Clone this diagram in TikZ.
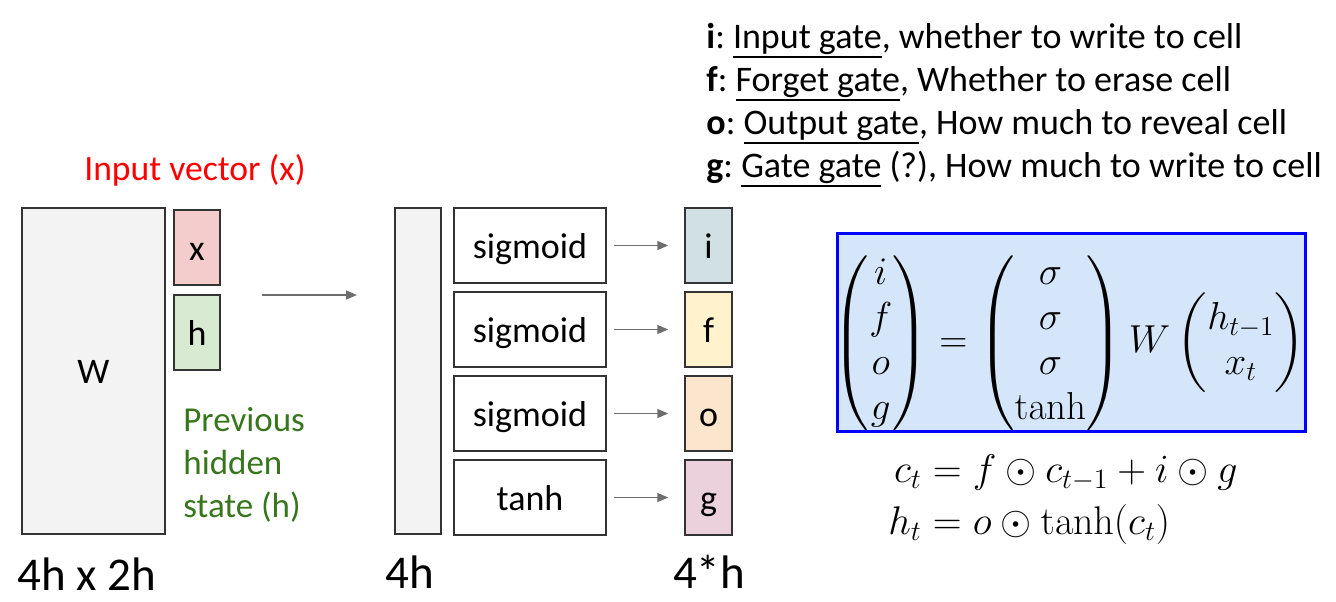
\RequirePackage{fix-cm}
\documentclass[tikz,border=0pt]{standalone}
\usepackage{amsmath}
\usepackage[no-math]{fontspec}
\setmainfont{Carlito}
\usetikzlibrary{arrows.meta}
\newcommand\gateul[1]{\leavevmode\setbox0=\hbox{#1}\rlap{\rule[-5pt]{\wd0}{0.9pt}}\box0\relax}
\frenchspacing
\definecolor{wgray}{RGB}{243,243,243}
\definecolor{xpink}{RGB}{244,204,204}
\definecolor{hgreen}{RGB}{217,234,211}
\definecolor{igate}{RGB}{208,224,227}
\definecolor{fgate}{RGB}{255,242,204}
\definecolor{ogate}{RGB}{252,229,205}
\definecolor{ggate}{RGB}{234,209,220}
\definecolor{boxblue}{RGB}{213,229,250}
\definecolor{darkgreen}{RGB}{56,118,29}
\definecolor{arrowgray}{RGB}{110,110,110}

\begin{document}
\begin{tikzpicture}[x=0.5pt, y=-0.5pt,
  cell/.style={draw=black!80, line width=0.75pt, inner sep=0pt, text height=15pt, text depth=2.5pt, font=\fontsize{18}{21.6}\selectfont},
  flow/.style={draw=arrowgray, fill=arrowgray, line width=0.75pt, -{Triangle[length=5.5pt,width=4.5pt]}}]
  \useasboundingbox (0,0) rectangle (1336,601);
  % weight matrix and its inputs
  \node[cell, fill=wgray, minimum width=71.5pt, minimum height=163pt] (wmat) at (93.5,371) {W};
  \node[cell, fill=xpink, minimum width=23pt, minimum height=37.5pt] (xvec) at (197,247.5) {x};
  \node[cell, fill=hgreen, minimum width=23pt, minimum height=37.5pt] (hvec) at (197,332.5) {h};
  \node[text=red, font=\fontsize{17.8}{21}\selectfont] (xlabel) at (195,170) {Input vector (x)};
  \node[anchor=west, align=left, inner sep=0pt, text=darkgreen, font=\fontsize{17.5}{21.5}\selectfont] (hlabel) at (183,465) {Previous\\hidden\\state (h)};
  \node[anchor=west, inner sep=0pt, font=\fontsize{23.5}{28}\selectfont] (wdim) at (17,574) {4h x 2h};
  % product
  \coordinate (fromvec) at (262,295);
  \coordinate (tobar) at (357,295);
  \draw[flow] (fromvec) -- (tobar);
  \node[cell, fill=wgray, minimum width=23pt, minimum height=163pt] (zbar) at (418,371) {};
  \node[anchor=west, inner sep=0pt, font=\fontsize{23.5}{28}\selectfont] (zdim) at (385,572) {4h};
  % activations and gates
  \foreach \fn/\g/\c [count=\k from 0] in {sigmoid/i/igate, sigmoid/f/fgate, sigmoid/o/ogate, tanh/g/ggate} {
    \node[cell, minimum width=76pt, minimum height=37.5pt] (act\k) at (530,245.5+84*\k) {\fn};
    \node[cell, fill=\c, minimum width=23.5pt, minimum height=37.5pt] (gate\k) at (708.5,245.5+84*\k) {\g};
    \draw[flow, shorten <=3.5pt, shorten >=8pt] (act\k) -- (gate\k);
  }
  \node[font=\fontsize{23.5}{28}\selectfont] (gdim) at (709,572) {4*h};
  % legend
  \node[anchor=west, align=left, inner sep=0pt, font=\fontsize{18}{21.5}\selectfont] (legend) at (706,105) {%
    \textbf{i}: \gateul{Input gate}, whether to write to cell\\
    \textbf{f}: \gateul{Forget gate}, Whether to erase cell\\
    \textbf{o}: \gateul{Output gate}, How much to reveal cell\\
    \textbf{g}: \gateul{Gate gate} (?), How much to write to cell};
  % equations
  \begin{scope}
    \clip (837,233) rectangle (1305,431);
    \fill[boxblue] (837,233) rectangle (1305,431);
    \node[font=\fontsize{19.5}{22.5}\selectfont] (gates) at (1069,343)
      {$\begin{pmatrix} i\\ f\\ o\\ g\end{pmatrix} = \begin{pmatrix}\sigma\\ \sigma\\ \sigma\\ \tanh\end{pmatrix} W \begin{pmatrix} h_{t-1}\\ x_t\end{pmatrix}$};
  \end{scope}
  \draw[blue, line width=1.5pt] (837,233) rectangle (1305,431);
  \node[font=\fontsize{20}{23}\selectfont] (cells) at (1063,499)
    {$\begin{aligned} c_t &= f\odot c_{t-1} + i\odot g\\ h_t &= o\odot\tanh(c_t)\end{aligned}$};
\end{tikzpicture}
\end{document}
